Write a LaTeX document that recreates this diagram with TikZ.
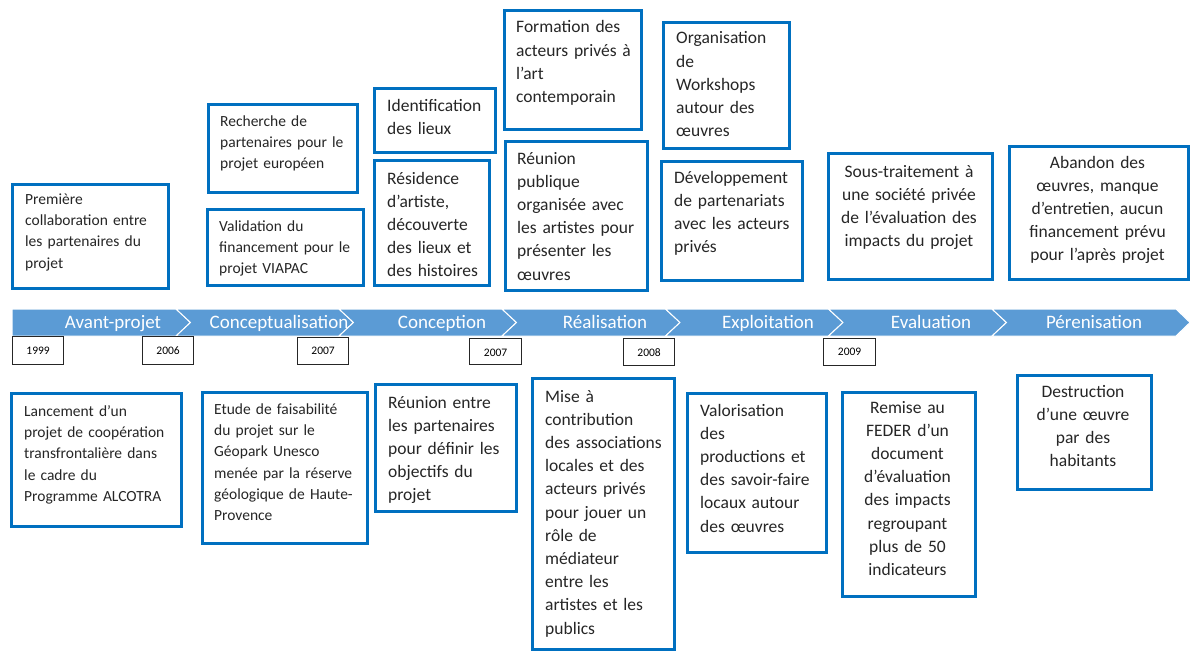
\documentclass[tikz,border=0pt]{standalone}
\usepackage{fontspec}
\setmainfont{Carlito}
\definecolor{bandblue}{HTML}{5B9BD5}
\definecolor{boxblue}{HTML}{0070C0}
\definecolor{txtc}{HTML}{262626}
\newcommand\bigf{\fontsize{17.5}{23.2}\selectfont}
\newcommand\smallf{\fontsize{15.5}{21.2}\selectfont}
\newcommand\bandf{\fontsize{19}{22}\selectfont}
\newcommand\yearf{\fontsize{11.5}{13}\selectfont}
% name, x1, y1, x2, y2
\newcommand\bx[5]{\node[bluebox, anchor=north west, minimum width={#4-#2}, minimum height={#5-#3}] (#1) at (#2,#3) {};}
\newcommand\yb[5]{\node[yearbox, anchor=north west, minimum width={#4-#2}, minimum height={#5-#3}] (#1) at (#2,#3) {};}
\begin{document}
\begin{tikzpicture}[x=1pt,y=-1pt,
  bluebox/.style={draw=boxblue, line width=2.6pt, fill=white, inner sep=0pt},
  yearbox/.style={draw=black!85, line width=1.2pt, fill=white, inner sep=0pt},
  yeartxt/.style={font=\yearf, text=black, inner sep=0pt},
  seg/.style={fill=bandblue, draw=white, line width=1pt, line join=miter},
  bandtxt/.style={font=\bandf, text=white, inner sep=0pt, anchor=base},
  ltxt/.style={inner sep=0pt, anchor=base west, align=left, text width=220pt, text=txtc},
  ctxt/.style={inner sep=0pt, anchor=base, align=center, text=txtc},
]
\useasboundingbox (0,0) rectangle (1190,650);
\fill[white] (0,0) rectangle (1190,650);

% ---------------- band ----------------
\draw[seg] (12,309) -- (176,309) -- (190.5,322.5) -- (176,336) -- (12,336) -- cycle;
\draw[seg] (176,309) -- (339,309) -- (353.5,322.5) -- (339,336) -- (176,336) -- (190.5,322.5) -- cycle;
\draw[seg] (339,309) -- (502,309) -- (516.5,322.5) -- (502,336) -- (339,336) -- (353.5,322.5) -- cycle;
\draw[seg] (502,309) -- (665.5,309) -- (680,322.5) -- (665.5,336) -- (502,336) -- (516.5,322.5) -- cycle;
\draw[seg] (665.5,309) -- (828.5,309) -- (843,322.5) -- (828.5,336) -- (665.5,336) -- (680,322.5) -- cycle;
\draw[seg] (828.5,309) -- (992,309) -- (1006.5,322.5) -- (992,336) -- (828.5,336) -- (843,322.5) -- cycle;
\draw[seg] (992,309) -- (1176,309) -- (1190,322.5) -- (1176,336) -- (992,336) -- (1006.5,322.5) -- cycle;

\node[bandtxt] (p1) at (113,328) {Avant-projet};
\node[bandtxt] (p2) at (279,328) {Conceptualisation};
\node[bandtxt] (p3) at (442,328) {Conception};
\node[bandtxt] (p4) at (605,328) {Réalisation};
\node[bandtxt] (p5) at (768,328) {Exploitation};
\node[bandtxt] (p6) at (931,328) {Evaluation};
\node[bandtxt] (p7) at (1094,328) {Pérenisation};

% ---------------- years ----------------
\yb{y1}{12}{336}{63}{364}
\node[yeartxt] at (y1.center) {1999};
\yb{y2}{142}{336}{193}{364}
\node[yeartxt] at (y2.center) {2006};
\yb{y3}{297}{337}{348}{364}
\node[yeartxt] at (y3.center) {2007};
\yb{y4}{469}{338}{521}{364}
\node[yeartxt] at ([yshift=-1]y4.center) {2007};
\yb{y5}{623}{338}{674}{365}
\node[yeartxt] at ([yshift=-1]y5.center) {2008};
\yb{y6}{823}{338}{875}{365}
\node[yeartxt] at (y6.center) {2009};

% ---------------- boxes above ----------------
\bx{b1}{11}{183}{167}{287}
\node[ltxt, font=\smallf] (t1) at (25,204.5) {Première\\collaboration entre\\les partenaires du\\projet};
\bx{b2}{207}{103}{356}{191}
\node[ltxt, font=\smallf] (t2) at (220,126.5) {Recherche de\\partenaires pour le\\projet européen};
\bx{b3}{206}{208}{362}{284}
\node[ltxt, font=\smallf] (t3) at (219,231.5) {Validation du\\financement pour le\\projet VIAPAC};
\bx{b4}{373}{87}{494}{151}
\node[ltxt, font=\bigf] (t4) at (387,111) {Identification\\des lieux};
\bx{b5}{373}{159}{488}{284}
\node[ltxt, font=\bigf] (t5) at (387,184) {Résidence\\d’artiste,\\découverte\\des lieux et\\des histoires};
\bx{b6}{503}{9}{640}{128}
\node[ltxt, font=\bigf] (t6) at (516,33) {Formation des\\acteurs privés à\\l’art\\contemporain};
\bx{b7}{504}{140}{646}{289}
\node[ltxt, font=\bigf] (t7) at (517,164) {Réunion\\publique\\organisée avec\\les artistes pour\\présenter les\\œuvres};
\bx{b8}{662}{21}{788}{147}
\node[ltxt, font=\bigf] (t8) at (676,44) {Organisation\\de\\Workshops\\autour des\\œuvres};
\bx{b9}{660}{160}{801}{279}
\node[ltxt, font=\bigf] (t9) at (674,183) {Développement\\de partenariats\\avec les acteurs\\privés};
\bx{b10}{827}{152}{991}{278}
\node[ctxt, font=\bigf, text width=160pt] (t10) at (909,177) {Sous-traitement à\\une société privée\\de l’évaluation des\\impacts du projet};
\bx{b11}{1008}{145}{1187}{278}
\node[ctxt, font=\bigf, text width=175pt] (t11) at (1097.5,168) {Abandon des\\œuvres, manque\\d’entretien, aucun\\financement prévu\\pour l’après projet};

% ---------------- boxes below ----------------
\bx{b12}{10}{392}{180}{525}
\node[ltxt, font=\smallf] (t12) at (24,416.5) {Lancement d’un\\projet de coopération\\transfrontalière dans\\le cadre du\\Programme ALCOTRA};
\bx{b13}{201}{391}{366}{542}
\node[ltxt, font=\smallf] (t13) at (214,414.5) {Etude de faisabilité\\du projet sur le\\Géopark Unesco\\menée par la réserve\\géologique de Haute-\\Provence};
\bx{b14}{374}{383}{515}{510}
\node[ltxt, font=\bigf] (t14) at (388,408) {Réunion entre\\les partenaires\\pour définir les\\objectifs du\\projet};
\bx{b15}{531}{377}{673}{648}
\node[ltxt, font=\bigf] (t15) at (545,402) {Mise à\\contribution\\des associations\\locales et des\\acteurs privés\\pour jouer un\\rôle de\\médiateur\\entre les\\artistes et les\\publics};
\bx{b16}{686}{392}{825}{551}
\node[ltxt, font=\bigf] (t16) at (700,416) {Valorisation\\des\\productions et\\des savoir-faire\\locaux autour\\des œuvres};
\bx{b17}{841}{391}{974}{595}
\node[ctxt, font=\bigf, text width=130pt] (t17) at (907.5,413) {Remise au\\FEDER d’un\\document\\d’évaluation\\des impacts\\regroupant\\plus de 50\\indicateurs};
\bx{b18}{1016}{374}{1150}{488}
\node[ctxt, font=\bigf, text width=130pt] (t18) at (1083,397) {Destruction\\d’une œuvre\\par des\\habitants};
\end{tikzpicture}
\end{document}
